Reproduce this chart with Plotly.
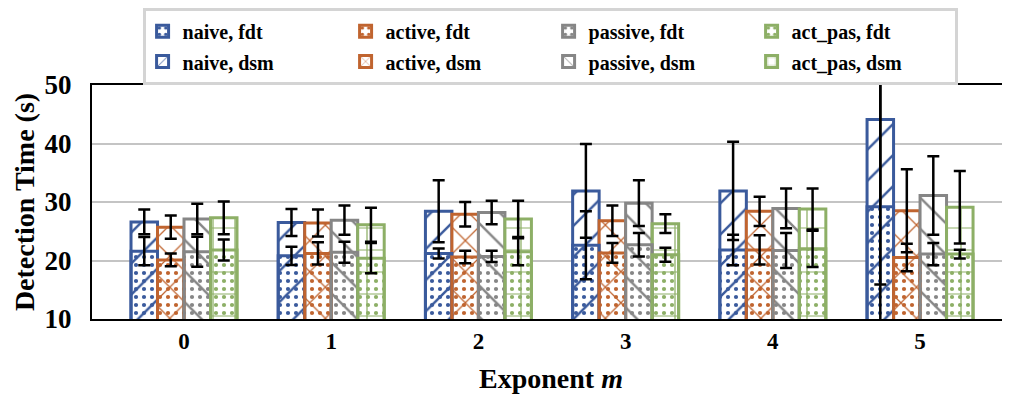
import plotly.graph_objects as go

categories = ["0", "1", "2", "3", "4", "5"]
methods = ["naive", "active", "passive", "act_pas"]

fdt_values = {
    "naive":   [21.6, 20.8, 21.2, 22.6, 21.8, 29.2],
    "active":  [20.1, 21.2, 20.6, 21.3, 21.8, 20.5],
    "passive": [21.5, 21.4, 20.7, 22.7, 21.7, 21.1],
    "act_pas": [21.8, 20.4, 21.5, 21.0, 22.0, 21.1],
}
fdt_errors = {
    "naive":   [2.4, 1.55, 0.85, 5.8, 2.6, 21.0],
    "active":  [1.1, 1.9, 1.05, 1.7, 2.5, 2.35],
    "passive": [2.55, 1.8, 0.95, 2.0, 3.0, 1.9],
    "act_pas": [1.8, 2.6, 2.3, 1.2, 3.1, 0.75],
}
dsm_values = {
    "naive":   [26.6, 26.5, 28.4, 31.9, 31.9, 44.1],
    "active":  [25.7, 26.4, 27.9, 26.8, 28.4, 28.5],
    "passive": [27.1, 26.9, 28.2, 29.8, 28.9, 31.1],
    "act_pas": [27.3, 26.1, 27.1, 26.3, 28.8, 29.1],
}
dsm_errors = {
    "naive":   [2.1, 2.3, 5.3, 8.0, 8.4, 28.2],
    "active":  [2.0, 2.3, 2.1, 2.6, 2.5, 7.1],
    "passive": [2.6, 2.5, 2.0, 3.9, 3.4, 6.7],
    "act_pas": [2.8, 2.9, 3.1, 1.6, 3.5, 6.2],
}

colors = {"naive": "#3A5A9C", "active": "#C0642F", "passive": "#868686", "act_pas": "#8DAF66"}
dsm_shapes = {"naive": "/", "active": "x", "passive": "\\", "act_pas": "+"}

font_family = "Liberation Serif"

def legend_name(text):
    return f"<span style='font-size:20px'><b>{text}</b></span>"

fig = go.Figure()

# dsm bars first (behind), then fdt bars overlaid at the same position
for i, m in enumerate(methods):
    fig.add_trace(go.Bar(
        x=categories, y=dsm_values[m], name=legend_name(f"{m}, dsm"),
        offsetgroup=m, legendgroup=m, legendrank=2 * i + 2,
        marker=dict(color="white",
                    line=dict(color=colors[m], width=3),
                    pattern=dict(shape=dsm_shapes[m], fgcolor=colors[m], bgcolor="white",
                                 size=22, solidity=0.11, fillmode="replace")),
        error_y=dict(type="data", array=dsm_errors[m], color="black", thickness=2.5, width=6),
    ))
for i, m in enumerate(methods):
    fig.add_trace(go.Bar(
        x=categories, y=fdt_values[m], name=legend_name(f"{m}, fdt"),
        offsetgroup=m, legendgroup=m, legendrank=2 * i + 1,
        marker=dict(color="rgba(0,0,0,0)",
                    line=dict(color=colors[m], width=3),
                    pattern=dict(shape=".", fgcolor=colors[m], bgcolor="rgba(0,0,0,0)",
                                 size=8, solidity=0.22, fillmode="replace")),
        error_y=dict(type="data", array=fdt_errors[m], color="black", thickness=2.5, width=6),
    ))

fig.update_layout(
    width=1002, height=394,
    margin=dict(l=84, r=0, t=77, b=83),
    barmode="group", bargap=0.28, bargroupgap=0,
    plot_bgcolor="white", paper_bgcolor="white",
    font=dict(family=font_family, size=20, color="black"),
    showlegend=True,
    legend=dict(
        orientation="h", x=0.499, xanchor="center", y=1.329, yanchor="top",
        bordercolor="#D4D4D4", borderwidth=3, bgcolor="white",
        font=dict(family=font_family, size=21, color="black"),
        entrywidth=158, entrywidthmode="pixels", itemwidth=30,
        traceorder="grouped", tracegroupgap=0,
    ),
    xaxis=dict(
        range=[-0.625, 5.611], showline=True, linecolor="black", linewidth=2,
        mirror=True, ticks="", showgrid=False, automargin=False,
        tickfont=dict(family=font_family, size=23),
        tickprefix="<b>", ticksuffix="</b>",
        title=dict(text="<b>Exponent <i>m</i></b>", font=dict(family=font_family, size=28), standoff=16),
    ),
    yaxis=dict(
        range=[10, 50], dtick=10, showline=True, linecolor="black", linewidth=2,
        showgrid=True, gridcolor="#C4C4C4", gridwidth=1.5, zeroline=False, ticks="",
        automargin=False, ticklabelstandoff=13,
        tickfont=dict(family=font_family, size=27),
        tickprefix="<b>", ticksuffix="</b>",
        title=dict(text="<b>Detection Time (s)</b>", font=dict(family=font_family, size=28), standoff=2),
    ),
)

fig.write_html("out.html")
